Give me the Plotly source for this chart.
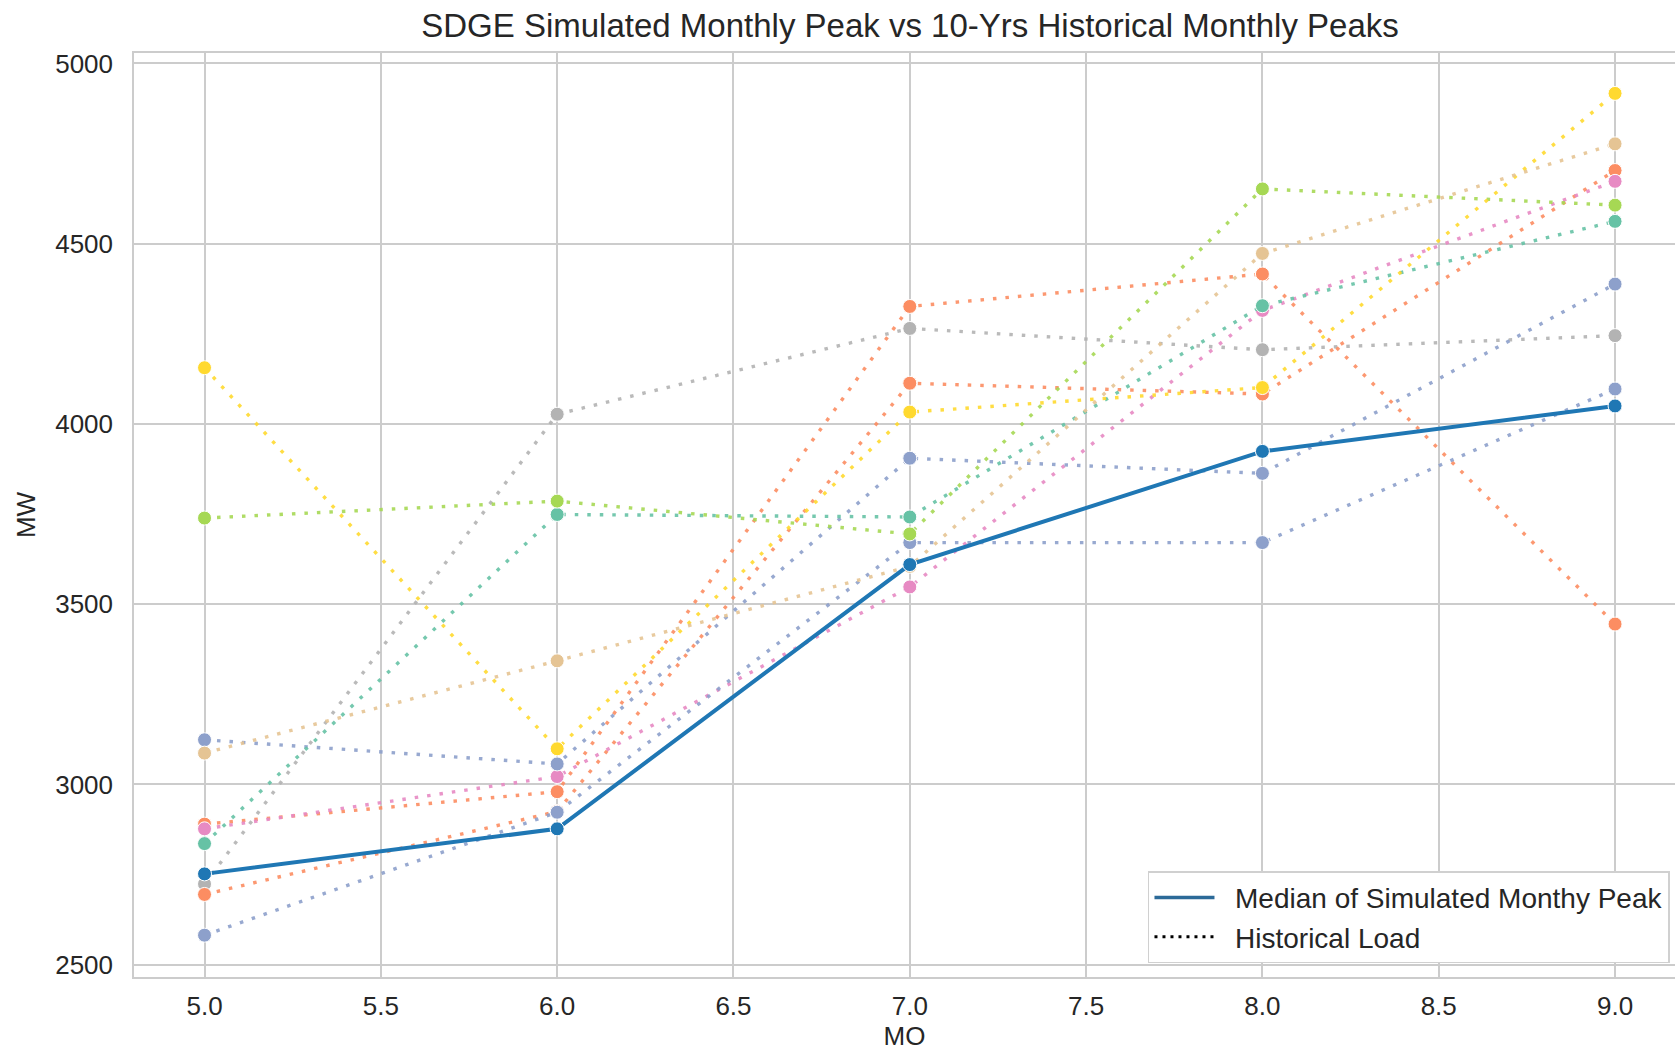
import plotly.graph_objects as go

# ---------------- data ----------------
months = [5, 6, 7, 8, 9]
median_sim = [2752, 2877, 3610, 3924, 4050]

hist_gray = [2724, 4027, 4265, 4206, 4245]
hist_orange_a = [2890, 2980, 4326, 4416, 3445]
hist_orange_b = [2695, 2925, 4113, 4083, 4703]
hist_pink = [2877, 3022, 3548, 4315, 4673]
hist_blue_a = [3124, 3057, 3905, 3863, 4388]
hist_blue_b = [2582, 2923, 3671, 3671, 4097]
hist_teal = [2836, 3749, 3742, 4328, 4562]
hist_lime = [3739, 3786, 3695, 4652, 4607]
hist_yellow = [4156, 3099, 4033, 4101, 4917]
hist_tan = [3087, 3343, 3605, 4473, 4777]

x_ticks = [5.0, 5.5, 6.0, 6.5, 7.0, 7.5, 8.0, 8.5, 9.0]
y_ticks = [2500, 3000, 3500, 4000, 4500, 5000]

title_text = "SDGE Simulated Monthly Peak vs 10-Yrs Historical Monthly Peaks"
median_label = "Median of Simulated Monthy Peak"
hist_label = "Historical Load"

# ---------------- styling ----------------
FONT = "Liberation Sans, Arial, sans-serif"
TXT = "#262626"
GRID = "#cccccc"
PAD = "\u00a0\u00a0"

history = [
    (hist_gray, "#b3b3b3"),
    (hist_orange_a, "#fc8d62"),
    (hist_orange_b, "#fc8d62"),
    (hist_pink, "#e78ac3"),
    (hist_blue_a, "#8da0cb"),
    (hist_blue_b, "#8da0cb"),
    (hist_teal, "#66c2a5"),
    (hist_lime, "#a6d854"),
    (hist_yellow, "#ffd92f"),
    (hist_tan, "#e5c494"),
]


def rgba(hex_color, a):
    h = hex_color.lstrip("#")
    r, g, b = int(h[0:2], 16), int(h[2:4], 16), int(h[4:6], 16)
    return f"rgba({r},{g},{b},{a})"


fig = go.Figure()

for vals, col in history:
    fig.add_trace(go.Scatter(
        x=months, y=vals, mode="lines+markers",
        line=dict(color=rgba(col, 0.9), width=3.4, dash="3.5px,9px"),
        marker=dict(color=col, size=14, line=dict(color="white", width=1)),
        showlegend=False, hoverinfo="skip",
    ))

fig.add_trace(go.Scatter(
    x=months, y=median_sim, mode="lines+markers",
    line=dict(color="#1f77b4", width=4),
    marker=dict(color="#1f77b4", size=14, line=dict(color="white", width=1)),
    showlegend=False,
))

# legend entries
fig.add_trace(go.Scatter(
    x=[None], y=[None], mode="lines", name=PAD + median_label,
    line=dict(color="#2c6a98", width=3.5),
))
fig.add_trace(go.Scatter(
    x=[None], y=[None], mode="lines", name=PAD + hist_label,
    line=dict(color="black", width=3, dash="3px,5px"),
))

fig.update_layout(
    width=1675, height=1051,
    margin=dict(l=134, r=0, t=53, b=74),
    paper_bgcolor="white", plot_bgcolor="white",
    font=dict(family=FONT, color=TXT, size=26),
    title=dict(
        text=title_text, x=0.5433, xref="container", xanchor="center",
        y=1 - 25 / 1051, yref="container", yanchor="middle",
        font=dict(size=33, color=TXT, family=FONT),
    ),
    legend=dict(
        x=0.658, xanchor="left", y=0.1145, yanchor="top",
        bgcolor="white", bordercolor="#d0d0d0", borderwidth=1.5,
        font=dict(size=28, color=TXT, family=FONT),
        itemwidth=60, tracegroupgap=0,
    ),
    xaxis=dict(
        range=[4.8, 9.17], tickvals=x_ticks,
        ticktext=[f"{v:.1f}" for v in x_ticks],
        showgrid=True, gridcolor=GRID, gridwidth=1.5,
        showline=True, linecolor=GRID, linewidth=1.5, mirror=True,
        zeroline=False, ticks="", ticklabelstandoff=5, automargin=False,
        tickfont=dict(size=26, color=TXT),
        title=dict(text="MO", font=dict(size=26, color=TXT), standoff=15),
    ),
    yaxis=dict(
        range=[2466, 5029], tickvals=y_ticks,
        showgrid=True, gridcolor=GRID, gridwidth=1.5,
        showline=True, linecolor=GRID, linewidth=1.5, mirror=False,
        zeroline=False, ticks="", ticklabelstandoff=14, automargin=False,
        tickfont=dict(size=26, color=TXT),
        title=dict(text="MW", font=dict(size=26, color=TXT), standoff=12),
    ),
)

fig.write_html("out.html")
